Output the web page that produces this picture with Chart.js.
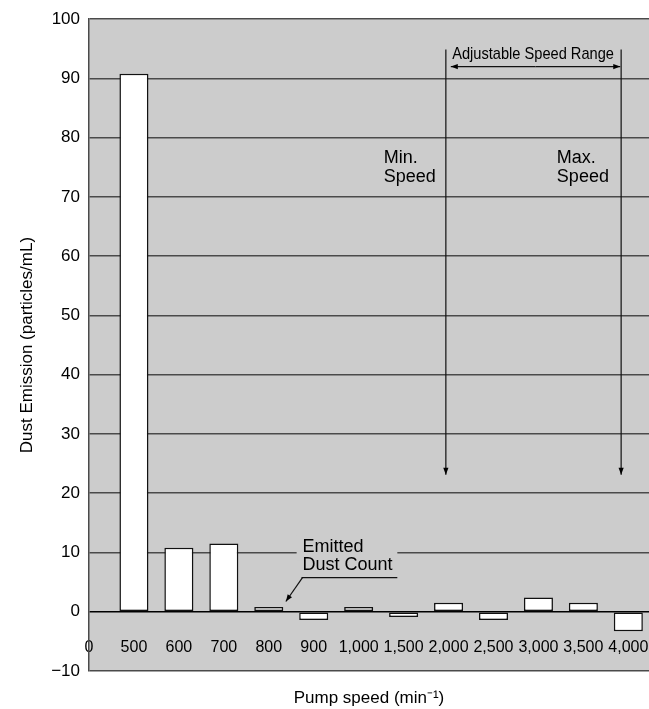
<!DOCTYPE html>
<html><head><meta charset="utf-8">
<script src="https://cdn.jsdelivr.net/npm/chart.js@4.4.1/dist/chart.umd.min.js"></script>
<style>html,body{margin:0;padding:0;background:#fff}#wrap{width:649px;height:709px}</style>
</head><body><div id="wrap"><canvas id="c" width="649" height="709"></canvas></div>
<script>
// ---- data ----
const speedLabels = ['0','500','600','700','800','900','1,000','1,500','2,000','2,500','3,000','3,500','4,000'];
const dustValues = [90.8, 10.8, 11.5, 0.8, -1.4, 0.8, -0.9, 1.5, -1.4, 2.4, 1.5, -3.3];
const yTicks = [-10, 0, 10, 20, 30, 40, 50, 60, 70, 80, 90, 100];
const yTickLabels = ['\u221210','0','10','20','30','40','50','60','70','80','90','100'];
const xTitle = 'Pump speed (min\u207B\u00B9)';
const yTitle = 'Dust Emission (particles/mL)';
const rangeLabel = 'Adjustable Speed Range';
const minLabel = ['Min.', 'Speed'];
const maxLabel = ['Max.', 'Speed'];
const emittedLabel = ['Emitted', 'Dust Count'];

const FONT = "'Liberation Sans', Arial, Helvetica, sans-serif";

const bgPlugin = {
  id: 'bg',
  beforeDraw(chart) {
    const {ctx, chartArea: a} = chart;
    ctx.save();
    ctx.fillStyle = '#cccccc';
    ctx.fillRect(a.left, a.top, a.right - a.left, a.bottom - a.top);
    ctx.restore();
  }
};

function arrow(ctx, x1, y1, x2, y2) {
  ctx.beginPath(); ctx.moveTo(x1, y1); ctx.lineTo(x2, y2); ctx.stroke();
  const ang = Math.atan2(y2 - y1, x2 - x1), L = 7, W = 2.6;
  ctx.beginPath();
  ctx.moveTo(x2, y2);
  ctx.lineTo(x2 - L * Math.cos(ang) + W * Math.sin(ang), y2 - L * Math.sin(ang) - W * Math.cos(ang));
  ctx.lineTo(x2 - L * Math.cos(ang) - W * Math.sin(ang), y2 - L * Math.sin(ang) + W * Math.cos(ang));
  ctx.closePath(); ctx.fill();
}

const annoPlugin = {
  id: 'anno',
  afterDatasetsDraw(chart) {
    const {ctx, scales: {x, y}} = chart;
    const X = v => x.getPixelForValue(v), Y = v => y.getPixelForValue(v);
    ctx.save();
    // label box over gridline
    ctx.fillStyle = '#cccccc';
    ctx.fillRect(X(4.62), Y(12.8), X(6.86) - X(4.62), Y(8.6) - Y(12.8));
    ctx.fillStyle = '#000'; ctx.strokeStyle = '#111'; ctx.lineWidth = 1.2;
    ctx.font = '18px ' + FONT; ctx.textBaseline = 'middle'; ctx.textAlign = 'left';
    ctx.fillText(emittedLabel[0], X(4.75), Y(11.0));
    ctx.fillText(emittedLabel[1], X(4.75), Y(7.8));
    ctx.beginPath(); ctx.moveTo(X(4.73), Y(5.77)); ctx.lineTo(X(6.86), Y(5.77)); ctx.stroke();
    arrow(ctx, X(4.75), Y(5.77), X(4.38), Y(1.73));
    // min / max speed
    ctx.fillText(minLabel[0], X(6.56), Y(76.5));
    ctx.fillText(minLabel[1], X(6.56), Y(73.3));
    ctx.fillText(maxLabel[0], X(10.41), Y(76.5));
    ctx.fillText(maxLabel[1], X(10.41), Y(73.3));
    // vertical arrows
    arrow(ctx, X(7.94), Y(94.9), X(7.94), Y(23.1));
    arrow(ctx, X(11.84), Y(94.9), X(11.84), Y(23.1));
    // range double arrow
    const mx = (X(8.05) + X(11.82)) / 2;
    arrow(ctx, mx, Y(92.0), X(8.05), Y(92.0));
    arrow(ctx, mx, Y(92.0), X(11.82), Y(92.0));
    // condensed range label
    ctx.font = '17px ' + FONT; ctx.textAlign = 'center';
    ctx.translate(X(9.88), Y(94.0));
    ctx.scale(0.86, 1);
    ctx.fillText(rangeLabel, 0, 0);
    ctx.restore();
  }
};

new Chart(document.getElementById('c'), {
  type: 'bar',
  data: {
    datasets: [{
      data: dustValues.map((v, i) => ({x: i + 1, y: v})),
      backgroundColor: '#ffffff',
      borderColor: '#111111',
      borderWidth: 1.5,
      borderSkipped: false,
      barPercentage: 0.646,
      categoryPercentage: 1
    }]
  },
  options: {
    responsive: false,
    animation: false,
    devicePixelRatio: 1,
    layout: {padding: {top: 17, left: 0, right: 0, bottom: 0}},
    plugins: {legend: {display: false}, tooltip: {enabled: false}},
    scales: {
      x: {
        type: 'linear', min: 0, max: 12.46, offset: false,
        afterBuildTicks: s => { s.ticks = speedLabels.map((_, i) => ({value: i})); },
        afterFit: s => { s.height = 38; s.paddingLeft = 0; s.paddingRight = 0; },
        ticks: {
          callback: v => speedLabels[v] ?? '',
          autoSkip: false, maxRotation: 0, minRotation: 0,
          mirror: true, padding: 14, color: '#000',
          font: {family: FONT, size: 16}
        },
        grid: {display: false, drawTicks: false, offset: false},
        border: {display: false},
        title: {display: true, text: xTitle, color: '#000', font: {family: FONT, size: 17}, padding: {top: 0, bottom: 0}}
      },
      y: {
        min: -10, max: 100,
        afterBuildTicks: s => { s.ticks = yTicks.map(v => ({value: v})); },
        afterFit: s => { s.width = 89; },
        ticks: {
          callback: v => yTickLabels[yTicks.indexOf(v)],
          padding: 9, color: '#000',
          font: {family: FONT, size: 17}
        },
        grid: {
          color: c => (c.tick && c.tick.value === 0) ? '#000000' : '#4a4a4a',
          lineWidth: 1.5, drawTicks: false
        },
        border: {display: true, color: '#4a4a4a', width: 1.5},
        title: {display: true, text: yTitle, color: '#000', font: {family: FONT, size: 17}, padding: {top: 17, bottom: 0}}
      }
    }
  },
  plugins: [bgPlugin, annoPlugin]
});
</script>
</body></html>
